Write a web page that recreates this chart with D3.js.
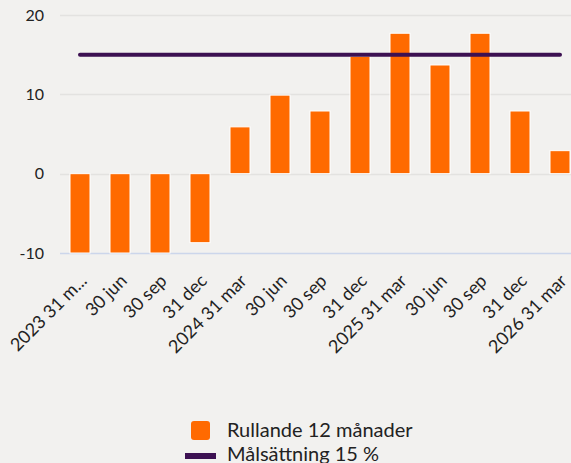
<!DOCTYPE html>
<html>
<head>
<meta charset="utf-8">
<script src="https://cdn.jsdelivr.net/npm/d3@7"></script>
<style>
  body { margin: 0; background: #f2f1ef; }
  svg { display: block; font-family: Lato, "Open Sans", sans-serif; }
</style>
</head>
<body>
<svg id="chart"></svg>
<script>
const categories = ['2023 31 m...', '30 jun', '30 sep', '31 dec', '2024 31 mar', '30 jun', '30 sep',
  '31 dec', '2025 31 mar', '30 jun', '30 sep', '31 dec', '2026 31 mar'];
const rolling = [-10, -10, -10, -8.7, 5.9, 9.9, 7.9, 14.8, 17.7, 13.7, 17.7, 7.9, 2.9];
const target = 15;
const yTicks = [-10, 0, 10, 20];
const seriesNames = ['Rullande 12 månader', 'Målsättning 15 %'];

const width = 571;
const height = 463;
const margin = { top: 15, left: 60, bottom: 210 };
const plotRight = 580; // plot is wider than the window, right side is cut off

const svg = d3.select('#chart')
  .attr('width', width)
  .attr('height', height);

const x = d3.scaleBand()
  .domain(d3.range(categories.length))
  .range([margin.left, plotRight])
  .paddingInner(0.5)
  .paddingOuter(0.25);

const y = d3.scaleLinear()
  .domain([-10, 20])
  .range([height - margin.bottom, margin.top]);

// grid lines
svg.append('g')
  .selectAll('line')
  .data(yTicks.filter((d) => d !== -10))
  .join('line')
  .attr('x1', margin.left)
  .attr('x2', plotRight)
  .attr('y1', (d) => Math.round(y(d)) + 0.5)
  .attr('y2', (d) => Math.round(y(d)) + 0.5)
  .attr('stroke', '#e3e2e0')
  .attr('stroke-width', 1.5);

// bottom axis line
svg.append('line')
  .attr('x1', margin.left)
  .attr('x2', plotRight)
  .attr('y1', Math.round(y(-10)) + 0.5)
  .attr('y2', Math.round(y(-10)) + 0.5)
  .attr('stroke', '#ccd6eb')
  .attr('stroke-width', 1.5);

// y labels
const yAxis = d3.axisLeft(y).tickValues(yTicks).tickSize(0).tickPadding(0)
  .tickFormat((d) => `${d}`);
const yAxisG = svg.append('g')
  .attr('transform', `translate(44,0)`)
  .call(yAxis);
yAxisG.select('.domain').remove();
yAxisG.selectAll('text')
  .attr('font-family', 'Lato, sans-serif')
  .attr('font-size', 16)
  .attr('fill', '#222')
  .attr('dy', '0.32em');

// bars
svg.append('g')
  .selectAll('rect')
  .data(rolling)
  .join('rect')
  .attr('x', (d, i) => x(i))
  .attr('width', x.bandwidth())
  .attr('y', (d) => y(Math.max(0, d)))
  .attr('height', (d) => Math.abs(y(d) - y(0)))
  .attr('fill', '#ff6a00')
  .attr('stroke', '#ffffff')
  .attr('stroke-width', 1);

// target line
svg.append('line')
  .attr('x1', x(0) + x.bandwidth() / 2)
  .attr('x2', x(categories.length - 1) + x.bandwidth() / 2)
  .attr('y1', y(target))
  .attr('y2', y(target))
  .attr('stroke', '#3d1152')
  .attr('stroke-width', 4)
  .attr('stroke-linecap', 'round');

// x labels
const xAxis = d3.axisBottom(x).tickSize(0).tickFormat((i) => categories[i]);
const xAxisG = svg.append('g')
  .attr('transform', `translate(0,${y(-10)})`)
  .call(xAxis);
xAxisG.select('.domain').remove();
xAxisG.selectAll('text')
  .attr('font-family', 'Lato, sans-serif')
  .attr('font-size', 18)
  .attr('fill', '#222')
  .attr('text-anchor', 'end')
  .attr('dy', 0)
  .attr('y', 0)
  .attr('transform', 'translate(8,29) rotate(-45)');

// legend
const legend = svg.append('g');
legend.append('rect')
  .attr('x', 191)
  .attr('y', 421)
  .attr('width', 19)
  .attr('height', 19)
  .attr('rx', 3)
  .attr('fill', '#ff6a00');
legend.append('line')
  .attr('x1', 185)
  .attr('x2', 216)
  .attr('y1', 456)
  .attr('y2', 456)
  .attr('stroke', '#3d1152')
  .attr('stroke-width', 6);
legend.selectAll('text')
  .data(seriesNames)
  .join('text')
  .attr('x', 227)
  .attr('y', (d, i) => 437 + i * 24)
  .attr('font-size', 20)
  .attr('fill', '#222')
  .text((d) => d);
</script>
</body>
</html>
